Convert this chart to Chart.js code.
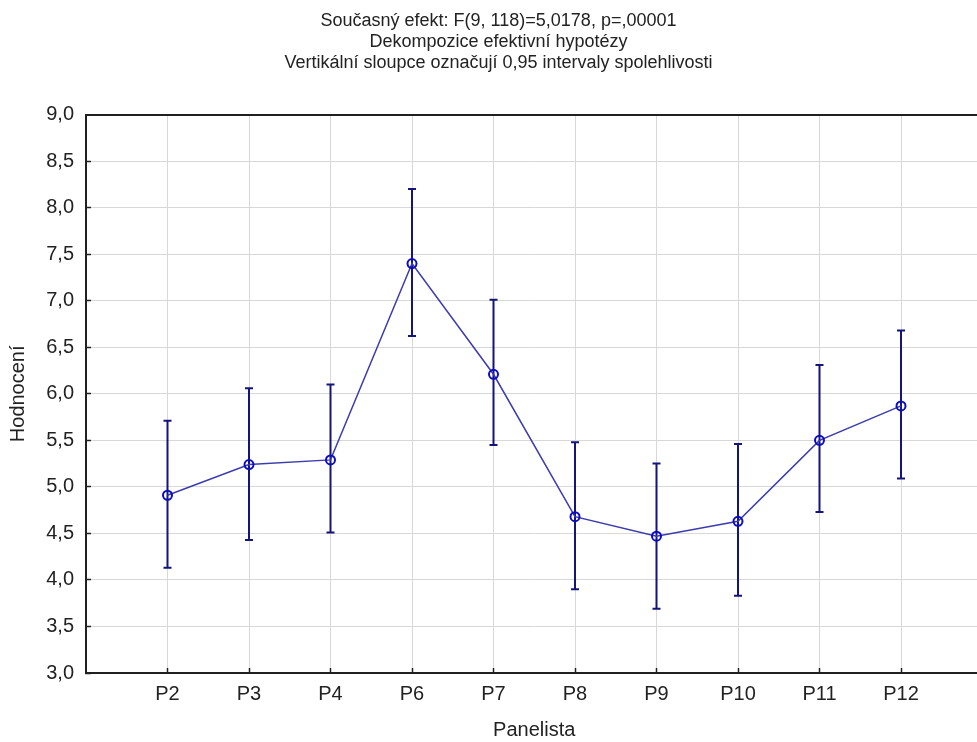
<!DOCTYPE html>
<html>
<head>
<meta charset="utf-8">
<script src="https://cdn.jsdelivr.net/npm/chart.js@4"></script>
<style>
  html, body { margin: 0; padding: 0; background: #ffffff; overflow: hidden; }
  #wrap { position: relative; width: 989px; height: 742px; }
</style>
</head>
<body>
<div id="wrap"><canvas id="chart"></canvas></div>
<script>
// Panelists and their mean ratings with 0.95 confidence limits
const categories = ['P2', 'P3', 'P4', 'P6', 'P7', 'P8', 'P9', 'P10', 'P11', 'P12'];
const means      = [4.91, 5.24, 5.29, 7.40, 6.21, 4.68, 4.47, 4.63, 5.50, 5.87];
const lowerCI    = [4.13, 4.43, 4.51, 6.62, 5.45, 3.90, 3.69, 3.83, 4.73, 5.09];
const upperCI    = [5.71, 6.06, 6.10, 8.20, 7.01, 5.48, 5.25, 5.46, 6.31, 6.68];
const yTicks     = [3.0, 3.5, 4.0, 4.5, 5.0, 5.5, 6.0, 6.5, 7.0, 7.5, 8.0, 8.5, 9.0];
const titleLines = [
  'Současný efekt: F(9, 118)=5,0178, p=,00001',
  'Dekompozice efektivní hypotézy',
  'Vertikální sloupce označují 0,95 intervaly spolehlivosti'
];

const FONT = '"Liberation Sans", Arial, sans-serif';
const GRID = '#d8d8d8';
const AXIS = '#202020';

// vertical confidence-interval bars with caps
const errorBars = {
  id: 'errorBars',
  beforeDatasetsDraw(chart) {
    const { ctx, scales: { x, y } } = chart;
    ctx.save();
    ctx.strokeStyle = '#14147a';
    ctx.lineWidth = 2;
    categories.forEach((_, i) => {
      const px = x.getPixelForValue(i);
      const yl = y.getPixelForValue(lowerCI[i]);
      const yu = y.getPixelForValue(upperCI[i]);
      ctx.beginPath();
      ctx.moveTo(px, yl); ctx.lineTo(px, yu);
      ctx.moveTo(px - 4, yl); ctx.lineTo(px + 4, yl);
      ctx.moveTo(px - 4, yu); ctx.lineTo(px + 4, yu);
      ctx.stroke();
    });
    ctx.restore();
  }
};

new Chart(document.getElementById('chart'), {
  type: 'line',
  data: {
    datasets: [{
      data: means.map((v, i) => ({ x: i, y: v })),
      borderColor: '#3c3cb0',
      borderWidth: 1.5,
      pointRadius: 4.5,
      pointBorderWidth: 2,
      pointBorderColor: '#0c0cc0',
      pointBackgroundColor: 'rgba(255,255,255,0)',
      tension: 0
    }]
  },
  plugins: [errorBars],
  options: {
    responsive: true,
    maintainAspectRatio: false,
    animation: false,
    layout: { padding: { left: 8, right: 0, top: 0, bottom: 0 } },
    plugins: {
      legend: { display: false },
      tooltip: { enabled: false },
      title: {
        display: true,
        text: titleLines,
        color: '#222222',
        font: { family: FONT, size: 18, weight: 'normal', lineHeight: 1.16 },
        padding: { top: 11, bottom: 41 }
      }
    },
    scales: {
      x: {
        type: 'linear',
        min: -1,
        max: categories.length,
        afterBuildTicks(scale) {
          scale.ticks = categories.map((_, i) => ({ value: i }));
        },
        afterFit(scale) { scale.height = 69; },
        ticks: {
          autoSkip: false,
          maxRotation: 0,
          padding: 14,
          color: '#222222',
          font: { family: FONT, size: 20 },
          callback: (v) => categories[v]
        },
        grid: {
          color: GRID,
          lineWidth: 1,
          drawTicks: true,
          tickLength: -5,
          tickColor: AXIS,
          tickWidth: 1.5
        },
        border: { display: true, color: AXIS, width: 2 },
        title: {
          display: true,
          text: 'Panelista',
          color: '#222222',
          font: { family: FONT, size: 20 },
          padding: { top: 12, bottom: 0 }
        }
      },
      y: {
        min: 3,
        max: 9,
        afterBuildTicks(scale) {
          scale.ticks = yTicks.map(v => ({ value: v }));
        },
        afterFit(scale) { scale.width = 78; },
        ticks: {
          padding: 17,
          color: '#222222',
          font: { family: FONT, size: 20 },
          callback: (v) => v.toFixed(1).replace('.', ',')
        },
        grid: {
          color: (c) => (c.tick && c.tick.value === 9 ? AXIS : GRID),
          lineWidth: (c) => (c.tick && c.tick.value === 9 ? 2 : 1),
          drawTicks: true,
          tickLength: -5,
          tickColor: AXIS,
          tickWidth: 1.5
        },
        border: { display: true, color: AXIS, width: 2 },
        title: {
          display: true,
          text: 'Hodnocení',
          color: '#222222',
          font: { family: FONT, size: 20 },
          padding: { top: -2, bottom: 0 }
        }
      }
    }
  }
});
</script>
</body>
</html>
